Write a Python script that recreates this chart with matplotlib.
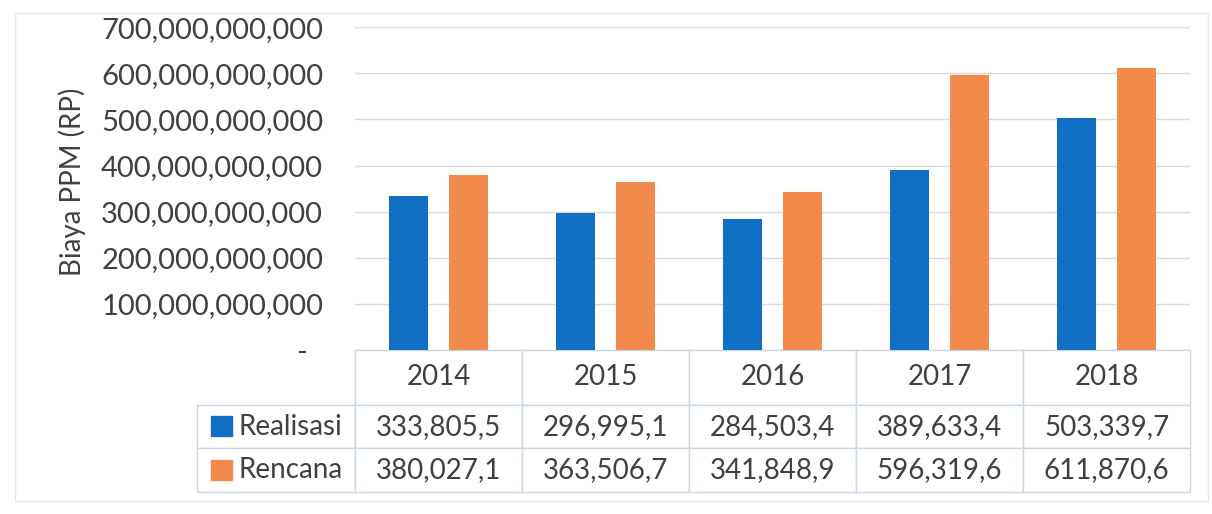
import numpy as np
import matplotlib.pyplot as plt
from matplotlib.ticker import FuncFormatter

# data (table values are in millions of Rp)
years = ['2014', '2015', '2016', '2017', '2018']
realisasi = [333805.5, 296995.1, 284503.4, 389633.4, 503339.7]
rencana = [380027.1, 363506.7, 341848.9, 596319.6, 611870.6]
realisasi_txt = ['333,805,5', '296,995,1', '284,503,4', '389,633,4', '503,339,7']
rencana_txt = ['380,027,1', '363,506,7', '341,848,9', '596,319,6', '611,870,6']

c_blue = '#1170c4'
c_orange = '#f28a4c'
txt = '#404040'
edge = '#c9d6e3'

plt.rcParams['font.family'] = ['Lato', 'DejaVu Sans']

fig = plt.figure(figsize=(12.12, 5.14), dpi=100)
ax = fig.add_axes([0.293, 0.319, 0.689, 0.628])

x = np.arange(len(years))
w = 0.235
ax.bar(x - 0.18, np.array(realisasi) * 1e6, w, color=c_blue, zorder=3)
ax.bar(x + 0.18, np.array(rencana) * 1e6, w, color=c_orange, zorder=3)

ax.set_xlim(-0.5, len(years) - 0.5)
ax.set_ylim(0, 700e9)
ax.set_yticks(np.arange(0, 700e9 + 1, 100e9))
# Excel-style: zero shown as a dash
ax.yaxis.set_major_formatter(FuncFormatter(lambda v, p: '-  ' if v == 0 else f'{v:,.0f}'))
ax.tick_params(axis='y', length=0, pad=23, labelsize=21, labelcolor=txt)
ax.set_xticks([])
ax.grid(axis='y', color='#d9d9d9', linewidth=1, zorder=0)
for s in ax.spines.values():
    s.set_visible(False)
ax.set_ylabel('Biaya PPM (RP)', fontsize=20, color=txt)
ax.yaxis.set_label_coords(-0.322, 0.52)

# data table under the plot
cells = [[''] + years,
         ['Realisasi'] + realisasi_txt,
         ['Rencana'] + rencana_txt]
lab_w = 0.189
tab = ax.table(cellText=cells, cellLoc='center',
               colWidths=[lab_w] + [1.0 / len(years)] * len(years),
               bbox=[-lab_w, -0.44, 1 + lab_w, 0.44])
tab.auto_set_font_size(False)
for (r, c), cell in tab.get_celld().items():
    cell.set_edgecolor(edge)
    cell.set_linewidth(1)
    cell.get_text().set_fontsize(20)
    cell.get_text().set_color(txt)
    cell.set_height(0.17 if r == 0 else 0.135)
    if c == 0:
        cell.get_text().set_ha('left')
        cell.PAD = 0.26
        cell._loc = 'left'
tab[0, 0].visible_edges = ''

# legend keys in the row label cells
for yc, col in [(-0.235, c_blue), (-0.371, c_orange)]:
    ax.add_patch(plt.Rectangle((-0.172, yc - 0.031), 0.024, 0.062, transform=ax.transAxes,
                               color=col, clip_on=False, zorder=5))

fig.patches.append(plt.Rectangle((0.012, 0.025), 0.985, 0.95, transform=fig.transFigure,
                                 fill=False, edgecolor='#e4e8ee', linewidth=1))

fig.savefig('out.png', dpi=100)
